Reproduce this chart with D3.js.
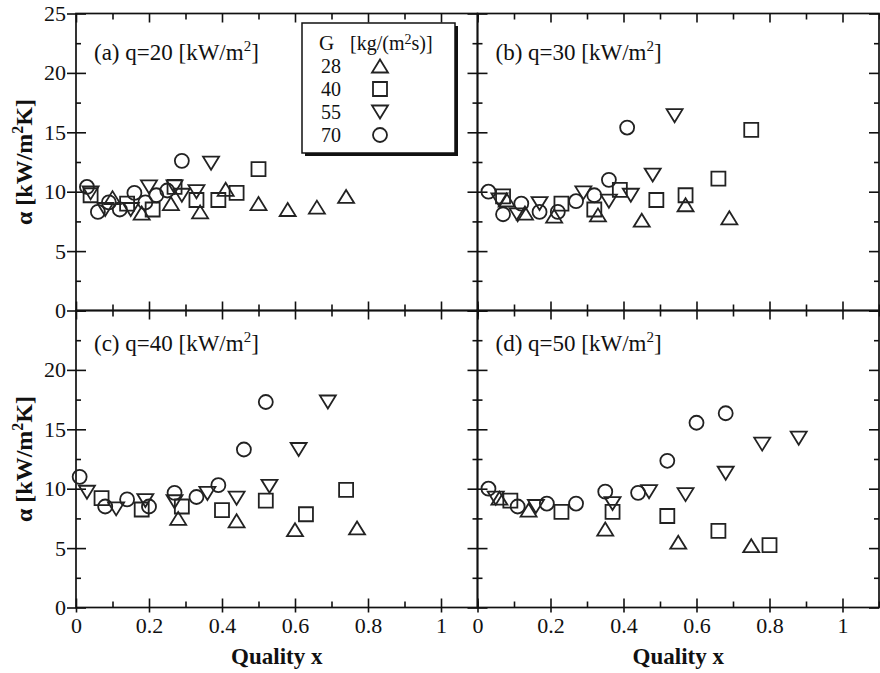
<!DOCTYPE html>
<html>
<head>
<meta charset="utf-8">
<script src="https://cdn.jsdelivr.net/npm/d3@7"></script>
<style>
body { margin: 0; background: #fff; }
svg text { font-family: "Liberation Serif", "Times New Roman", serif; fill: #111; }
</style>
</head>
<body>
<div id="vis"></div>
<script>
/* Data: heat transfer coefficient vs quality, 4 heat fluxes, 4 mass fluxes */
var massFlux = [28, 40, 55, 70];
var markers = ["up", "square", "down", "circle"];
var heatFlux = [20, 30, 40, 50];
var panelTags = ["(a)", "(b)", "(c)", "(d)"];
var xMajor = [0, 0.2, 0.4, 0.6, 0.8, 1];
var xMinor = [0.1, 0.3, 0.5, 0.7, 0.9, 1.1];
var yMajor = [0, 5, 10, 15, 20, 25];
var yMinor = [2.5, 7.5, 12.5, 17.5, 22.5];

// (a) q=20
var a28 = [[0.10, 9.5], [0.18, 8.2], [0.26, 9.0], [0.34, 8.3], [0.41, 10.2], [0.50, 9.0], [0.58, 8.5], [0.66, 8.7], [0.74, 9.6]];
var a40 = [[0.04, 9.7], [0.14, 9.0], [0.21, 8.5], [0.27, 10.4], [0.33, 9.3], [0.39, 9.3], [0.44, 9.9], [0.50, 11.9]];
var a55 = [[0.04, 9.9], [0.08, 8.5], [0.15, 8.5], [0.20, 10.4], [0.27, 10.4], [0.29, 9.7], [0.33, 10.0], [0.37, 12.4]];
var a70 = [[0.03, 10.4], [0.06, 8.3], [0.09, 9.1], [0.12, 8.5], [0.16, 9.9], [0.19, 9.1], [0.22, 9.7], [0.25, 10.1], [0.29, 12.6]];
// (b) q=30
var b28 = [[0.08, 9.3], [0.13, 8.2], [0.21, 7.95], [0.33, 8.05], [0.45, 7.6], [0.57, 8.9], [0.69, 7.8]];
var b40 = [[0.07, 9.6], [0.23, 9.0], [0.32, 8.5], [0.39, 10.15], [0.49, 9.3], [0.57, 9.7], [0.66, 11.1], [0.75, 15.2]];
var b55 = [[0.06, 9.3], [0.11, 8.05], [0.17, 9.0], [0.29, 9.9], [0.36, 9.2], [0.42, 9.7], [0.48, 11.4], [0.54, 16.4]];
var b70 = [[0.03, 10.0], [0.07, 8.1], [0.12, 9.0], [0.17, 8.3], [0.22, 8.3], [0.27, 9.2], [0.32, 9.7], [0.36, 11.0], [0.41, 15.4]];
// (c) q=40
var c28 = [[0.28, 7.5], [0.44, 7.3], [0.60, 6.55], [0.77, 6.7]];
var c40 = [[0.07, 9.2], [0.18, 8.25], [0.29, 8.5], [0.40, 8.2], [0.52, 9.0], [0.63, 7.85], [0.74, 9.9]];
var c55 = [[0.03, 9.7], [0.11, 8.3], [0.19, 9.0], [0.27, 8.9], [0.36, 9.6], [0.44, 9.2], [0.53, 10.2], [0.61, 13.3], [0.69, 17.3]];
var c70 = [[0.01, 11.0], [0.08, 8.5], [0.14, 9.1], [0.20, 8.5], [0.27, 9.65], [0.33, 9.3], [0.39, 10.3], [0.46, 13.3], [0.52, 17.3]];
// (d) q=50
var d28 = [[0.06, 9.2], [0.14, 8.2], [0.35, 6.6], [0.55, 5.5], [0.75, 5.2]];
var d40 = [[0.09, 9.0], [0.23, 8.05], [0.37, 8.05], [0.52, 7.7], [0.66, 6.45], [0.80, 5.25]];
var d55 = [[0.05, 9.2], [0.16, 8.5], [0.37, 8.75], [0.47, 9.75], [0.57, 9.5], [0.68, 11.3], [0.78, 13.75], [0.88, 14.25]];
var d70 = [[0.03, 10.0], [0.11, 8.5], [0.19, 8.75], [0.27, 8.75], [0.35, 9.75], [0.44, 9.65], [0.52, 12.35], [0.60, 15.55], [0.68, 16.35]];

var panelData = [[a28, a40, a55, a70], [b28, b40, b55, b70], [c28, c40, c55, c70], [d28, d40, d55, d70]];

/* Set up */
var W = 880, H = 673;
var left = 76, top0 = 13.5,
    plotW = 401.5, plotH = 297;

var svg = d3.select("#vis").append("svg").attr("width", W).attr("height", H);

var x = d3.scaleLinear().domain([0, 1.1]).range([0, plotW]);
var y = d3.scaleLinear().domain([0, 25]).range([plotH, 0]);

/* marker path, centred on the bbox */
function markerPath(type) {
    if (type === "up") return "M0,-6.5 L8,6.5 L-8,6.5 Z";
    if (type === "down") return "M0,6.5 L8,-6.5 L-8,-6.5 Z";
    if (type === "square") return "M-7,-7 H7 V7 H-7 Z";
    return d3.arc()({ innerRadius: 0, outerRadius: 7, startAngle: 0, endAngle: 2 * Math.PI });
}

function tickAxis(g, gen, values, size) {
    var a = g.append("g").call(gen.tickValues(values).tickSize(size).tickFormat(""));
    a.select(".domain").remove();
    a.selectAll("line").attr("stroke", "#111").attr("stroke-width", 1.6);
    return a;
}

panelTags.forEach(function (tag, i) {
    var col = i % 2, row = Math.floor(i / 2);
    var g = svg.append("g")
        .attr("transform", "translate(" + (left + col * plotW) + "," + (top0 + row * plotH) + ")");

    // inward ticks on all four sides
    tickAxis(g, d3.axisLeft(y), yMajor, -10);
    tickAxis(g, d3.axisLeft(y), yMinor, -5);
    tickAxis(g.append("g").attr("transform", "translate(" + plotW + ",0)"), d3.axisRight(y), yMajor, -10);
    tickAxis(g.append("g").attr("transform", "translate(" + plotW + ",0)"), d3.axisRight(y), yMinor, -5);
    tickAxis(g, d3.axisTop(x), xMajor, -9);
    tickAxis(g, d3.axisTop(x), xMinor, -6);
    tickAxis(g.append("g").attr("transform", "translate(0," + plotH + ")"), d3.axisBottom(x), xMajor, -9);
    tickAxis(g.append("g").attr("transform", "translate(0," + plotH + ")"), d3.axisBottom(x), xMinor, -6);

    // frame
    g.append("rect").attr("width", plotW).attr("height", plotH)
        .attr("fill", "none").attr("stroke", "#111").attr("stroke-width", 1.7);

    // y labels on the left column
    if (col === 0) {
        var ya = g.append("g").call(d3.axisLeft(y)
            .tickValues(row === 0 ? yMajor : yMajor.slice(0, 5))
            .tickSize(9).tickPadding(1).tickFormat(d3.format("d")));
        ya.select(".domain").remove();
        ya.selectAll("line").attr("stroke", "#111").attr("stroke-width", 1.6);
        ya.selectAll("text").attr("font-size", 22).attr("font-family", null);

        g.append("text")
            .attr("transform", "translate(-44," + (plotH / 2) + ") rotate(-90)")
            .attr("text-anchor", "middle")
            .attr("font-size", 24).attr("font-weight", "bold")
            .call(function (t) {
                t.append("tspan").text("α [kW/m");
                t.append("tspan").attr("dy", -9).attr("font-size", 16).text("2");
                t.append("tspan").attr("dy", 9).text("K]");
            });
    }

    // x labels on the bottom row
    if (row === 1) {
        var xa = g.append("g").attr("transform", "translate(0," + plotH + ")")
            .call(d3.axisBottom(x).tickValues(xMajor).tickSize(5).tickPadding(5)
                .tickFormat(function (d) { return String(d); }));
        xa.select(".domain").remove();
        xa.selectAll("line").attr("stroke", "#111").attr("stroke-width", 1.6);
        xa.selectAll("text").attr("font-size", 22).attr("font-family", null);

        g.append("text")
            .attr("x", plotW / 2).attr("y", plotH + 56)
            .attr("text-anchor", "middle")
            .attr("font-size", 23).attr("font-weight", "bold")
            .text("Quality x");
    }

    // panel title
    g.append("text")
        .attr("x", 18).attr("y", row === 0 ? 46 : 40)
        .attr("font-size", 23)
        .call(function (t) {
            t.append("tspan").text(tag + " q=" + heatFlux[i] + " [kW/m");
            t.append("tspan").attr("dy", -9).attr("font-size", 15).text("2");
            t.append("tspan").attr("dy", 9).text("]");
        });

    // data markers
    panelData[i].forEach(function (series, s) {
        g.append("g").selectAll("path")
            .data(series)
            .enter().append("path")
            .attr("d", markerPath(markers[s]))
            .attr("transform", function (d) { return "translate(" + x(d[0]) + "," + y(d[1]) + ")"; })
            .attr("fill", "none")
            .attr("stroke", "#222")
            .attr("stroke-width", 1.8);
    });
});

/* Legend */
var lg = svg.append("g").attr("transform", "translate(302,23)");
lg.append("rect").attr("x", 3).attr("y", 3).attr("width", 153).attr("height", 130).attr("fill", "#111");
lg.append("rect").attr("width", 153).attr("height", 130)
    .attr("fill", "#fff").attr("stroke", "#111").attr("stroke-width", 1.5);
lg.append("text").attr("x", 17).attr("y", 27).attr("font-size", 21).text("G");
lg.append("text").attr("x", 48).attr("y", 27).attr("font-size", 20)
    .call(function (t) {
        t.append("tspan").text("[kg/(m");
        t.append("tspan").attr("dy", -6).attr("font-size", 14).text("2");
        t.append("tspan").attr("dy", 6).text("s)]");
    });
massFlux.forEach(function (m, s) {
    var yy = 50 + s * 23;
    lg.append("text").attr("x", 19).attr("y", yy).attr("font-size", 20).text(m);
    lg.append("path").attr("d", markerPath(markers[s]))
        .attr("transform", "translate(78," + (yy - 7) + ")")
        .attr("fill", "none").attr("stroke", "#222").attr("stroke-width", 1.8);
});
</script>
</body>
</html>
